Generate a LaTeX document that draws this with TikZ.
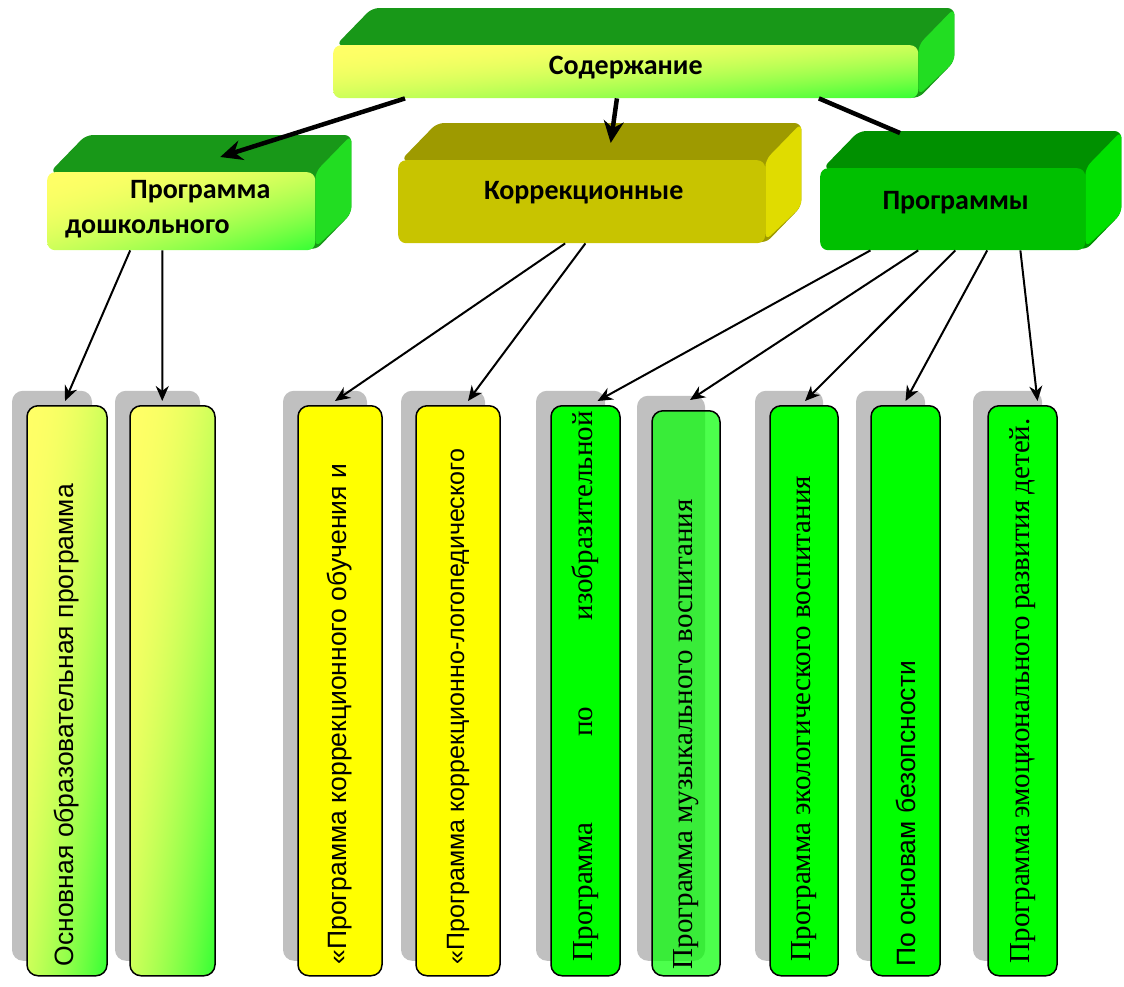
\documentclass[tikz,border=0pt]{standalone}
\usepackage{fontspec}
\setmainfont{Liberation Sans}
\newfontfamily\serifrm{Liberation Serif}
\newfontfamily\headfont{Carlito}
\usepackage{tikz}
\usetikzlibrary{arrows.meta,calc,shadows,backgrounds}
\definecolor{cDark}{HTML}{189818}
\definecolor{cSide}{HTML}{22DD22}
\definecolor{cOliveTop}{HTML}{9E9A00}
\definecolor{cOlive}{HTML}{C8C400}
\definecolor{cOliveSide}{HTML}{E0DC00}
\definecolor{cGreenTop}{HTML}{009000}
\definecolor{cGreen}{HTML}{00C000}
\definecolor{cGreenSide}{HTML}{00E000}
\definecolor{cShadow}{HTML}{C0C0C0}
\definecolor{cYel}{HTML}{FFFF00}
\definecolor{cNeon}{HTML}{00FF00}
% yellow (top left) to lime (bottom right), stretched to the box
\pgfdeclarefunctionalshading{diaglime}{\pgfpoint{-50bp}{-50bp}}{\pgfpoint{50bp}{50bp}}{}{
  sub 50 add 100 div
  dup 0 lt {pop 0} if dup 1 gt {pop 1} if
  dup mul
  dup 0.8 mul 1 exch sub
  exch 0.2 mul 0.4 exch sub
  1 exch
}
\tikzset{
  face/.style={rounded corners=8pt,inner sep=0pt,anchor=north west},
  gradface/.style={face,shading=diaglime},
  headtxt/.style={font=\headfont\bfseries\fontsize{28}{35}\selectfont,inner sep=0pt},
  col/.style={draw=black,line width=1.5pt,rounded corners=11pt,anchor=north,inner sep=0pt,minimum height=570pt,
    general shadow={fill=cShadow,opacity=1,shadow xshift=-15pt,shadow yshift=15pt}},
  coltxt/.style={rotate=90,anchor=west,inner sep=0pt,font=\fontsize{26.5}{30}\selectfont},
  sertxt/.style={coltxt,font=\serifrm\fontsize{29}{32}\selectfont},
  fat/.style={line width=4.5pt,-{Stealth[length=22pt,width=20pt]}},
  link/.style={line width=2pt,-{Stealth[length=15pt,width=13pt]}},
}

\begin{document}
\begin{tikzpicture}[x=1pt,y=-1pt]
  \useasboundingbox (0,0) rectangle (1124,986);
  % headline and the three groups
  \node[gradface,minimum width=585pt,minimum height=53pt] (top) at (333,45) {};
  \node[gradface,minimum width=268pt,minimum height=78pt] (kdo) at (47,172) {};
  \node[face,fill=cOlive,minimum width=367pt,minimum height=83pt] (korr) at (398,160) {};
  \node[face,fill=cGreen,minimum width=265pt,minimum height=82pt] (prog) at (820,168) {};
  \begin{scope}[on background layer]
    \foreach \n/\ct/\cs in {top/cDark/cSide,kdo/cDark/cSide,korr/cOliveTop/cOliveSide,prog/cGreenTop/cGreenSide}{
      \fill[\ct,rounded corners=7pt] ($(\n.north west)+(3,0)$) -- ++(36,-37) -- ($(\n.north east)+(36,-37)$)
        -- ($(\n.south east)+(36,-37)$) -- (\n.south east) -- cycle;
      \fill[\cs,rounded corners=7pt] (\n.north east) -- ++(36,-37) -- ($(\n.south east)+(36,-37)$)
        -- ($(\n.south east)+(0,-3)$) -- cycle;
    }
  \end{scope}
  \node[headtxt] (top-t) at ($(top.center)+(0,-4)$) {Содержание};
  \node[headtxt,anchor=north west,align=left] (kdo-t) at ($(kdo.north west)+(18,8)$) {\hspace*{65pt}Программа\\дошкольного};
  \node[headtxt] (korr-t) at ($(korr.center)+(2,-9)$) {Коррекционные};
  \node[headtxt] (prog-t) at ($(prog.center)+(3,-7)$) {Программы};

  % columns
  \node[col,shading=diaglime,minimum width=80pt] (c1) at (67,405) {};
  \node[col,shading=diaglime,minimum width=85pt] (c2) at (172.5,405) {};
  \node[col,fill=cYel,minimum width=84pt] (c3) at (340,405) {};
  \node[col,fill=cYel,minimum width=84pt] (c4) at (458,405) {};
  \node[col,fill=cNeon,minimum width=69pt] (c5) at (585.5,405) {};
  \node[col,fill=cNeon,fill opacity=0.7,minimum width=68pt,minimum height=565pt] (c6) at (686,410) {};
  \node[col,fill=cNeon,minimum width=68pt] (c7) at (804,405) {};
  \node[col,fill=cNeon,minimum width=69pt] (c8) at (905.5,405) {};
  \node[col,fill=cNeon,minimum width=69pt] (c9) at (1022.5,405) {};

  \node[coltxt] (t1) at ($(c1.south)+(0,-10)$) {Основная образовательная программа};
  \node[coltxt] (t3) at ($(c3.south)+(0,-12)$) {«Программа коррекционного обучения и};
  \node[coltxt,font=\fontsize{25}{30}\selectfont] (t4) at ($(c4.south)+(0,-12)$) {«Программа коррекционно-логопедического};
  \node[sertxt] (t5) at ($(c5.south)+(0,-15)$) {\makebox[550pt][s]{Программа по изобразительной}};
  \node[sertxt] (t6) at ($(c6.south)+(0,-7)$) {Программа музыкального воспитания};
  \node[sertxt] (t7) at ($(c7.south)+(0,-15)$) {Программа экологического воспитания};
  \node[coltxt] (t8) at ($(c8.south)+(0,-10)$) {По основам безопсности};
  \node[sertxt] (t9) at ($(c9.south)+(0,-13)$) {\makebox[545pt][s]{Программа эмоционального развития детей.}};

  % connectors
  \draw[line width=4.5pt] ($(top.south west)!0.83!(top.south east)$) -- ($(prog.north west)+(80,-35)$);
  \draw[fat] ($(top.south west)!0.123!(top.south east)$) -- ($(kdo.north)+(39,-15)$);
  \draw[fat] ($(top.south west)!0.485!(top.south east)$) -- ($(korr.north)+(29,-17)$);
  \draw[link] ($(kdo.south west)!0.31!(kdo.south east)$) -- ($(c1.north)+(-2,-4)$);
  \draw[link] ($(kdo.south west)!0.43!(kdo.south east)$) -- ($(c2.north west)+(33,-4)$);
  \draw[link] ($(korr.south west)!0.455!(korr.south east)$) -- ($(c3.north)+(-5,-4)$);
  \draw[link] ($(korr.south west)!0.51!(korr.south east)$) -- ($(c4.north)+(10,-4)$);
  \draw[link] ($(prog.south west)!0.19!(prog.south east)$) -- ($(c5.north)+(12,-4)$);
  \draw[link] ($(prog.south west)!0.37!(prog.south east)$) -- ($(c6.north)+(4,-10)$);
  \draw[link] ($(prog.south west)!0.51!(prog.south east)$) -- ($(c7.north)+(1,-4)$);
  \draw[link] ($(prog.south west)!0.63!(prog.south east)$) -- ($(c8.north)+(0,-4)$);
  \draw[link] ($(prog.south west)!0.755!(prog.south east)$) -- ($(c9.north)+(15,-4)$);
\end{tikzpicture}
\end{document}
